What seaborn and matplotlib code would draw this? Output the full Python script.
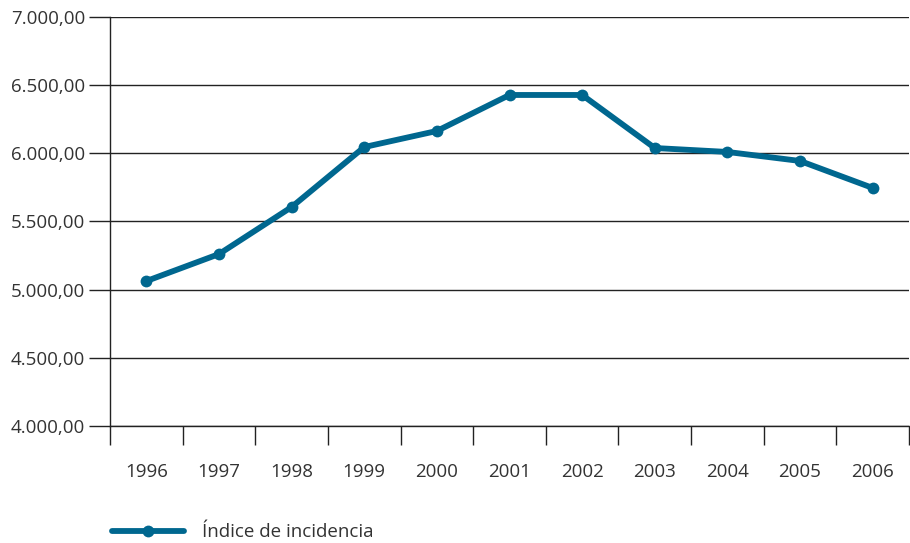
import numpy as np
import pandas as pd
import matplotlib
matplotlib.use("Agg")
import matplotlib.pyplot as plt
import seaborn as sns
from matplotlib.lines import Line2D
from matplotlib.ticker import FuncFormatter, FixedLocator

# data
years = ["1996", "1997", "1998", "1999", "2000", "2001", "2002", "2003", "2004", "2005", "2006"]
indice = [5063, 5261, 5606, 6046, 6164, 6428, 6428, 6039, 6010, 5944, 5746]
series_label = "Índice de incidencia"

sns.set_style("white")
plt.rcParams['font.family'] = ['Open Sans', 'DejaVu Sans']

df = pd.DataFrame({"pos": np.arange(len(years)), "valor": indice})

fig = plt.figure(figsize=(9.1, 5.43), dpi=100)
ax = fig.add_axes([0.1209, 0.2155, 0.878, 0.7532])

col = "#00678f"
sns.lineplot(data=df, x="pos", y="valor", ax=ax, color=col, linewidth=4.2,
             marker="o", markersize=8.5, markeredgewidth=0, legend=False,
             zorder=3)

ax.set_xlim(-0.5, len(years) - 0.5)
ax.set_ylim(4000, 7000)
ax.set_yticks(np.arange(4000, 7001, 500))
ax.yaxis.set_major_formatter(FuncFormatter(
    lambda v, p: f"{v:,.2f}".replace(",", "X").replace(".", ",").replace("X", ".")))
ax.grid(axis="y", color="#222222", linewidth=1.0)
ax.set_axisbelow(True)

# year labels centred, tick marks on the category boundaries
ax.set_xticks(df["pos"])
ax.set_xticklabels(years)
ax.xaxis.set_minor_locator(FixedLocator(np.arange(-0.5, len(years), 1.0)))
ax.tick_params(axis="x", which="major", bottom=False, length=0, pad=27,
               labelsize=13.5, labelcolor="#333333")
ax.tick_params(axis="x", which="minor", bottom=True, length=14, width=1.0,
               color="#222222", direction="out")
ax.tick_params(axis="y", length=15, width=1.0, color="#222222", pad=3,
               labelsize=13.5, labelcolor="#333333", left=True)

for s in ["top", "right"]:
    ax.spines[s].set_visible(False)
for s in ["left", "bottom"]:
    ax.spines[s].set_color("#222222")
    ax.spines[s].set_linewidth(1.0)

ax.set_xlabel("")
ax.set_ylabel("")

handle = Line2D([], [], color=col, linewidth=4.2, marker="o", markersize=8.5,
                markeredgewidth=0)
leg = fig.legend([handle], [series_label], loc="center left",
                 bbox_to_anchor=(0.1235, 0.02), frameon=False,
                 handlelength=3.8, handletextpad=1.0, fontsize=13.5, borderaxespad=0,
                 borderpad=0)
for t in leg.get_texts():
    t.set_color("#333333")

fig.savefig("out.png", dpi=100)
